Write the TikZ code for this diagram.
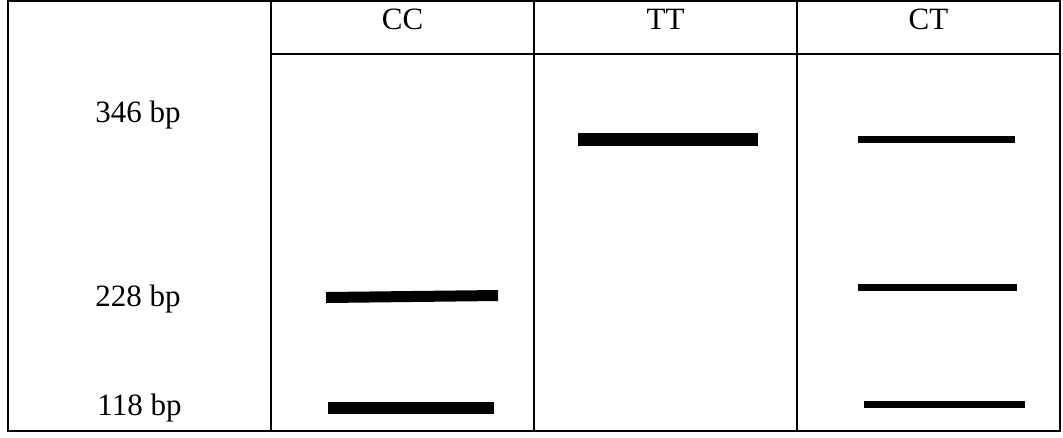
\documentclass[tikz,border=0pt]{standalone}
\usepackage{fontspec}
\setmainfont{Liberation Serif}
\begin{document}
\begin{tikzpicture}[x=1pt,y=-1pt,
  rule/.style={line width=1.8pt,line cap=rect},
  head/.style={anchor=base,font=\fontsize{31}{31}\selectfont,inner sep=0pt},
  size/.style={anchor=base,font=\fontsize{31}{31}\selectfont,inner sep=0pt},
  band/.style={fill=black}]
\useasboundingbox (0,0) rectangle (1063,437);
% table frame
\draw[rule] (8,1) rectangle (1060,431);
\draw[rule] (271,1) -- (271,431);
\draw[rule] (534,1) -- (534,431);
\draw[rule] (797,1) -- (797,431);
\draw[rule] (271,54) -- (1060,54);
% column heads
\node[head] (hCC) at (402.5,29) {CC};
\node[head] (hTT) at (665.5,29) {TT};
\node[head] (hCT) at (928.5,29) {CT};
% fragment sizes
\node[size] (s346) at (138,122) {346 bp};
\node[size] (s228) at (138,306) {228 bp};
\node[size] (s118) at (139.5,415) {118 bp};
% CC bands
\fill[band] (326,292) -- (498,290) -- (498,301) -- (326,303) -- cycle;
\fill[band] (328,402) rectangle (494,414);
% TT band
\fill[band] (578,133) rectangle (758,146);
% CT bands
\fill[band] (858,136) rectangle (1015,143);
\fill[band] (858,284) rectangle (1017,291);
\fill[band] (864,401) rectangle (1025,408);
\end{tikzpicture}
\end{document}
